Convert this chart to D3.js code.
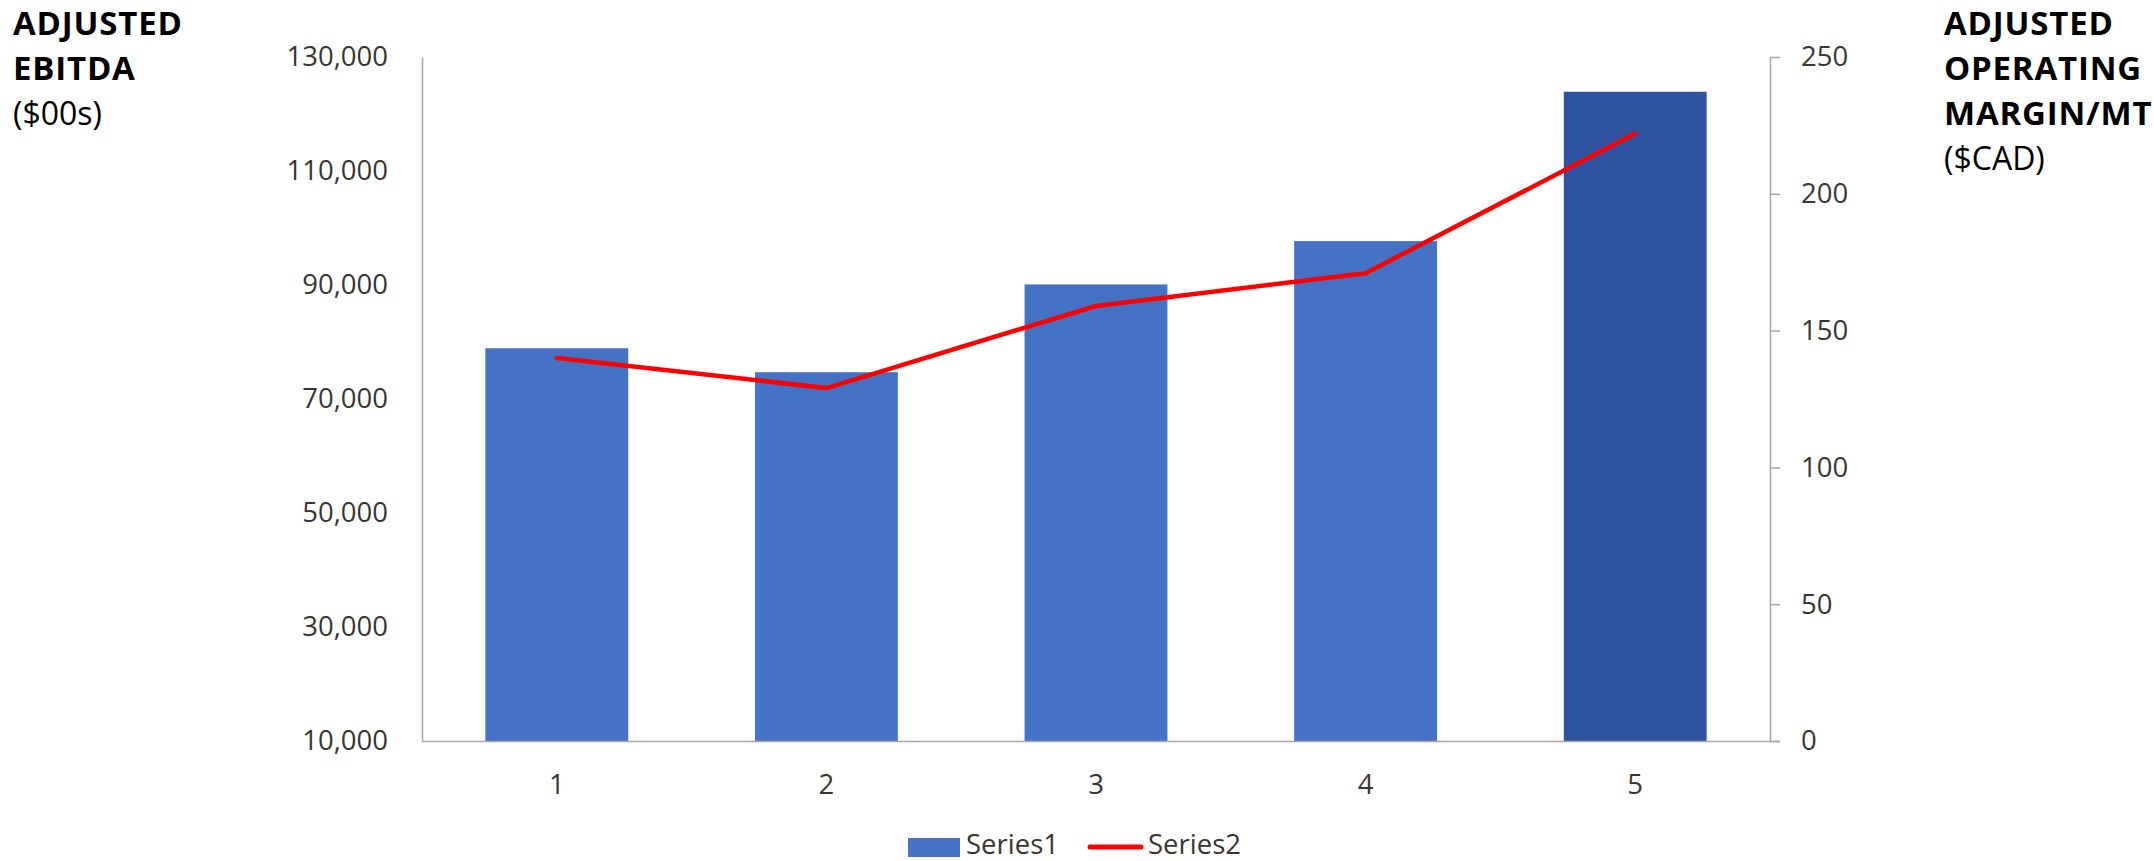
<!DOCTYPE html>
<html>
<head>
<meta charset="utf-8">
<script src="https://cdn.jsdelivr.net/npm/d3@7"></script>
<style>
  html, body { margin: 0; padding: 0; background: #fff; }
  svg { display: block; font-family: "Open Sans", "Noto Sans", sans-serif; }
</style>
</head>
<body>
<svg id="chart" width="2154" height="861"></svg>
<script>
const categories = ["1", "2", "3", "4", "5"];
const series1 = [78900, 74700, 90100, 97700, 123900];   // Adjusted EBITDA ($00s)
const series2 = [140, 129, 159, 171, 222];               // Adjusted operating margin/MT ($CAD)
const leftTicks = [10000, 30000, 50000, 70000, 90000, 110000, 130000];
const rightTicks = [0, 50, 100, 150, 200, 250];
const leftTitle = ["ADJUSTED", "EBITDA"];
const leftSub = "($00s)";
const rightTitle = ["ADJUSTED", "OPERATING", "MARGIN/MT"];
const rightSub = "($CAD)";
const seriesNames = ["Series1", "Series2"];

const svg = d3.select("#chart");
const plot = { left: 422, right: 1770, top: 57, bottom: 741 };
const axisColor = "#a6a6a6";
const textColor = "#3a3530";

const x = d3.scaleBand().domain(categories)
  .range([plot.left, plot.right]).paddingInner(0.47).paddingOuter(0.235);
const yL = d3.scaleLinear().domain([10000, 130000]).range([plot.bottom, plot.top]);
const yR = d3.scaleLinear().domain([0, 250]).range([plot.bottom, plot.top]);

// Bars
svg.append("g").selectAll("rect").data(series1).join("rect")
  .attr("x", (d, i) => x(categories[i]))
  .attr("width", x.bandwidth())
  .attr("y", d => yL(d))
  .attr("height", d => yL(10000) - yL(d))
  .attr("fill", (d, i) => i === categories.length - 1 ? "#2e54a1" : "#4472c4");

// Axes
const fmt = d3.format(",");
const gL = svg.append("g").attr("transform", `translate(${plot.left},0)`)
  .call(d3.axisLeft(yL).tickValues(leftTicks).tickFormat(fmt).tickSize(0).tickPadding(34));
const gR = svg.append("g").attr("transform", `translate(${plot.right},0)`)
  .call(d3.axisRight(yR).tickValues(rightTicks).tickSize(10).tickSizeOuter(0).tickPadding(21));
const gB = svg.append("g").attr("transform", `translate(0,${plot.bottom})`)
  .call(d3.axisBottom(x).tickSize(0).tickPadding(33));

[gL, gR, gB].forEach(g => {
  g.selectAll(".domain").attr("stroke", axisColor).attr("stroke-width", 1.5);
  g.selectAll(".tick line").attr("stroke", axisColor).attr("stroke-width", 1.5);
  g.selectAll("text").attr("fill", textColor)
    .style("font-family", '"Open Sans", sans-serif').style("font-size", "27.5px");
});
// extend bottom axis to meet right axis outer tick
gB.select(".domain").attr("d", `M${plot.left},0.5H${plot.right + 10}`);

// Line
const line = d3.line()
  .x((d, i) => x(categories[i]) + x.bandwidth() / 2)
  .y(d => yR(d));
svg.append("path").datum(series2)
  .attr("d", line)
  .attr("fill", "none")
  .attr("stroke", "#ff0000")
  .attr("stroke-width", 4.5)
  .attr("stroke-linecap", "round")
  .attr("stroke-linejoin", "round");

// Axis titles
function title(xPos, boldLines, sub) {
  const t = svg.append("text").attr("x", xPos).attr("fill", "#000");
  boldLines.forEach((s, i) => {
    t.append("tspan").attr("x", xPos).attr("y", 35 + i * 45)
      .style("font-weight", "700").style("font-size", "33px")
      .style("letter-spacing", "0.8px").text(s);
  });
  t.append("tspan").attr("x", xPos).attr("y", 35 + boldLines.length * 45)
    .style("font-weight", "400").style("font-size", "32px").text(sub);
}
title(13, leftTitle, leftSub);
title(1944, rightTitle, rightSub);

// Legend
const lg = svg.append("g").style("font-size", "27.5px");
lg.append("rect").attr("x", 908).attr("y", 838).attr("width", 52).attr("height", 19).attr("fill", "#4472c4");
lg.append("text").attr("x", 966).attr("y", 854).attr("fill", textColor).text(seriesNames[0]);
lg.append("line").attr("x1", 1090).attr("x2", 1141).attr("y1", 847).attr("y2", 847)
  .attr("stroke", "#ff0000").attr("stroke-width", 5).attr("stroke-linecap", "round");
lg.append("text").attr("x", 1148).attr("y", 854).attr("fill", textColor).text(seriesNames[1]);
</script>
</body>
</html>
